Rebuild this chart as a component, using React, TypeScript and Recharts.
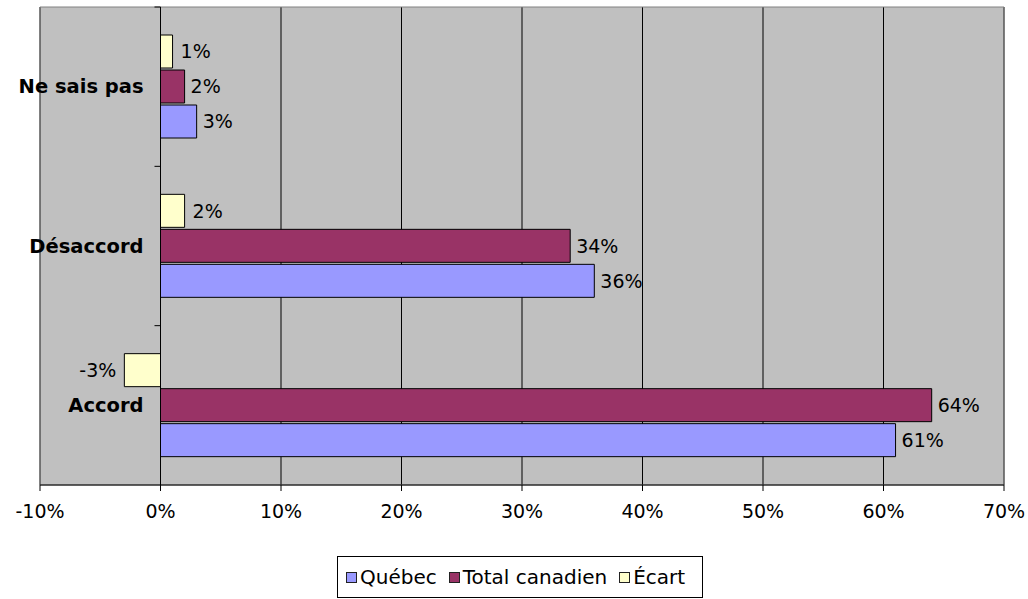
import {
  BarChart,
  Bar,
  XAxis,
  YAxis,
  CartesianGrid,
  ReferenceLine,
  ReferenceArea,
  LabelList,
  Legend,
} from "recharts";

const categories = ["Ne sais pas", "Désaccord", "Accord"];
const quebec = [3, 36, 61];
const totalCanadien = [2, 34, 64];
const ecart = [1, 2, -3];
const xTicks = [-10, 0, 10, 20, 30, 40, 50, 60, 70];

const data = categories.map((name, i) => ({
  name,
  quebec: quebec[i],
  total: totalCanadien[i],
  ecart: ecart[i],
}));

const series = [
  { key: "quebec", label: "Québec", color: "#9999ff" },
  { key: "total", label: "Total canadien", color: "#993366" },
  { key: "ecart", label: "Écart", color: "#ffffcc" },
];

const W = 1028;
const H = 599;
const Y_AXIS_W = 1;
const margin = { top: 7, right: 24, left: 40 - Y_AXIS_W, bottom: 22 };
const X_AXIS_H = 50;
const LEGEND_H = 42;
const plotLeft = margin.left + Y_AXIS_W;
const plotW = W - plotLeft - margin.right;
const plotH = H - margin.top - margin.bottom - X_AXIS_H - LEGEND_H;
const xMin = xTicks[0];
const xMax = xTicks[xTicks.length - 1];
// the category axis sits on the 0% line, not at the plot's left edge
const zeroX = plotLeft + ((0 - xMin) / (xMax - xMin)) * plotW;
const bandH = plotH / categories.length;

const FONT = "'DejaVu Sans', sans-serif";

function CategoryTick({ y, payload }: any) {
  return (
    <g>
      <line
        x1={zeroX - 6}
        x2={zeroX}
        y1={y - bandH / 2}
        y2={y - bandH / 2}
        stroke="#000"
      />
      <text
        x={zeroX - 17}
        y={y}
        textAnchor="end"
        dominantBaseline="central"
        fontWeight="bold"
        fontSize={19.5}
        fill="#000"
      >
        {payload.value}
      </text>
    </g>
  );
}

function LegendBox() {
  return (
    <div
      style={{
        boxSizing: "border-box",
        height: LEGEND_H,
        width: 366,
        border: "1px solid #000",
        background: "#fff",
        display: "flex",
        alignItems: "center",
        paddingLeft: 8,
        fontFamily: FONT,
        fontSize: 20,
        color: "#000",
      }}
    >
      {series.map((s, i) => (
        <div
          key={s.key}
          style={{ display: "flex", alignItems: "center", marginLeft: i ? 12 : 0 }}
        >
          <span
            style={{
              display: "inline-block",
              width: 9,
              height: 9,
              border: "1px solid #222",
              background: s.color,
              marginRight: 3,
            }}
          />
          <span>{s.label}</span>
        </div>
      ))}
    </div>
  );
}

export default function App() {
  const pct = (v: any) => `${v}%`;
  return (
    <div style={{ position: "absolute", left: 0, top: 0, fontFamily: FONT }}>
      <BarChart
        width={W}
        height={H}
        data={data}
        layout="vertical"
        margin={margin}
        barGap={2}
      >
        <CartesianGrid horizontal={false} stroke="#000" fill="#c0c0c0" />
        <ReferenceArea x1={xMin} x2={xMax} fill="none" stroke="#808080" />
        <XAxis
          type="number"
          domain={[xMin, xMax]}
          ticks={xTicks}
          tickFormatter={pct}
          height={X_AXIS_H}
          axisLine={{ stroke: "#000" }}
          tickLine={{ stroke: "#000" }}
          tickSize={6}
          tickMargin={14}
          tick={{ fill: "#000", fontSize: 19 }}
        />
        <YAxis
          type="category"
          dataKey="name"
          width={Y_AXIS_W}
          axisLine={false}
          tickLine={false}
          interval={0}
          tick={(props: any) => <CategoryTick {...props} />}
        />
        <ReferenceLine x={0} stroke="#000" />
        <Bar dataKey="ecart" fill="#ffffcc" stroke="#000" barSize={33} isAnimationActive={false}>
          <LabelList dataKey="ecart" position="right" offset={8} formatter={pct} fill="#000" fontSize={19} />
        </Bar>
        <Bar dataKey="total" fill="#993366" stroke="#000" barSize={33} isAnimationActive={false}>
          <LabelList dataKey="total" position="right" offset={6} formatter={pct} fill="#000" fontSize={19} />
        </Bar>
        <Bar dataKey="quebec" fill="#9999ff" stroke="#000" barSize={33} isAnimationActive={false}>
          <LabelList dataKey="quebec" position="right" offset={6} formatter={pct} fill="#000" fontSize={19} />
        </Bar>
        <Legend
          verticalAlign="bottom"
          content={() => <LegendBox />}
          wrapperStyle={{ left: 337, bottom: 1, width: "auto" }}
        />
      </BarChart>
    </div>
  );
}
